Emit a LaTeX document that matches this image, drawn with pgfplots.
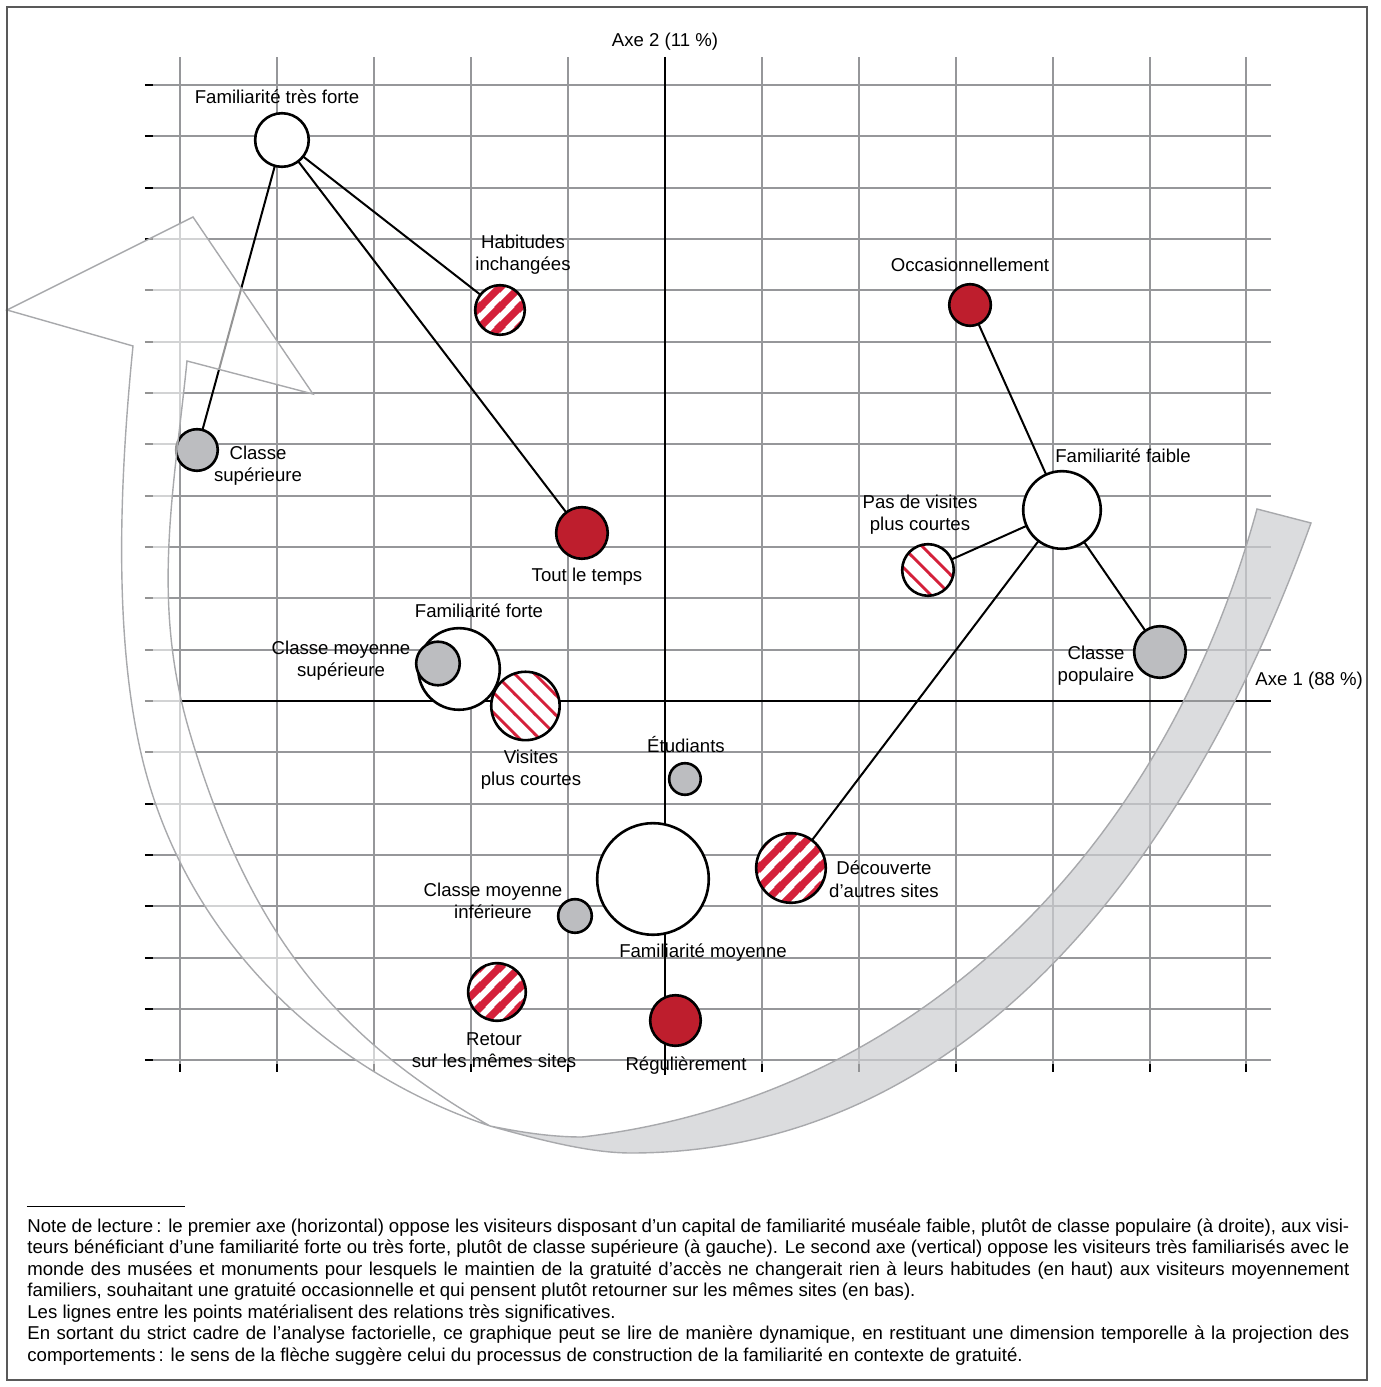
\documentclass[border=0pt]{standalone}
\usepackage{fontspec}
\setmainfont{Liberation Sans}
\usepackage{pgfplots}
\pgfplotsset{compat=1.18}
\usetikzlibrary{patterns}

\definecolor{gridgray}{RGB}{150,151,154}
\definecolor{circgray}{RGB}{188,189,192}
\definecolor{fillred}{RGB}{190,30,45}
\definecolor{hatchred}{RGB}{212,32,58}
\definecolor{bandgray}{RGB}{205,206,209}
\definecolor{bandedge}{RGB}{168,169,172}

\pgfdeclarepatternformonly{thickNE}{\pgfqpoint{0pt}{0pt}}{\pgfqpoint{10pt}{10pt}}{\pgfqpoint{10pt}{10pt}}{%
  \pgfsetlinewidth{3.7pt}%
  \pgfpathmoveto{\pgfqpoint{-2pt}{-2pt}}\pgfpathlineto{\pgfqpoint{12pt}{12pt}}%
  \pgfpathmoveto{\pgfqpoint{-2pt}{8pt}}\pgfpathlineto{\pgfqpoint{2pt}{12pt}}%
  \pgfpathmoveto{\pgfqpoint{8pt}{-2pt}}\pgfpathlineto{\pgfqpoint{12pt}{2pt}}%
  \pgfusepath{stroke}}
\pgfdeclarepatternformonly{thinNW}{\pgfqpoint{0pt}{0pt}}{\pgfqpoint{9.9pt}{9.9pt}}{\pgfqpoint{9.9pt}{9.9pt}}{%
  \pgfsetlinewidth{1.4pt}%
  \pgfpathmoveto{\pgfqpoint{-2pt}{11.9pt}}\pgfpathlineto{\pgfqpoint{11.9pt}{-2pt}}%
  \pgfpathmoveto{\pgfqpoint{-2pt}{2pt}}\pgfpathlineto{\pgfqpoint{2pt}{-2pt}}%
  \pgfpathmoveto{\pgfqpoint{7.9pt}{11.9pt}}\pgfpathlineto{\pgfqpoint{11.9pt}{7.9pt}}%
  \pgfusepath{stroke}}

\pgfdeclareplotmark{hatchA}{%
  \pgfscope
  \pgfpathcircle{\pgfpointorigin}{\pgfplotmarksize}%
  \pgfsetfillcolor{white}\pgfusepathqfill
  \pgfpathcircle{\pgfpointorigin}{\pgfplotmarksize}%
  \pgfsetfillpattern{thickNE}{hatchred}\pgfusepathqfill
  \endpgfscope
  \pgfpathcircle{\pgfpointorigin}{\pgfplotmarksize}%
  \pgfusepathqstroke}
\pgfdeclareplotmark{hatchB}{%
  \pgfscope
  \pgfpathcircle{\pgfpointorigin}{\pgfplotmarksize}%
  \pgfsetfillcolor{white}\pgfusepathqfill
  \pgfpathcircle{\pgfpointorigin}{\pgfplotmarksize}%
  \pgfsetfillpattern{thinNW}{hatchred}\pgfusepathqfill
  \endpgfscope
  \pgfpathcircle{\pgfpointorigin}{\pgfplotmarksize}%
  \pgfusepathqstroke}

\pgfplotsset{
  wc/.style={only marks, mark=*, mark size=#1, mark options={fill=white, draw=black, line width=1.3pt}},
  gc/.style={only marks, mark=*, mark size=#1, mark options={fill=circgray, draw=black, line width=1.3pt}},
  rc/.style={only marks, mark=*, mark size=#1, mark options={fill=fillred, draw=black, line width=1.3pt}},
  ha/.style={only marks, mark=hatchA, mark size=#1, mark options={draw=black, line width=1.3pt}},
  hb/.style={only marks, mark=hatchB, mark size=#1, mark options={draw=black, line width=1.3pt}},
  ln/.style={black, line width=1pt, no marks},
}

\newcommand{\labfont}{\fontsize{9.3pt}{11pt}\selectfont}
\newcommand{\lab}[3]{\node[anchor=base, inner sep=0pt, font=\labfont] at (#1,#2) {#3};}
\newcommand{\fl}[2]{\node[anchor=base west, inner sep=0pt, font=\labfont] at (27,#1) {#2};}

\begin{document}
\begin{tikzpicture}
\begin{axis}[
  x=48.45pt, y=25.66pt,
  xmin=-5.284, xmax=6.254, ymin=-7.073, ymax=12.549,
  axis line style={draw=none},
  xtick={-5,...,6}, ytick={-7,...,12},
  xticklabels={}, yticklabels={},
  xticklabel style={text opacity=0}, yticklabel style={text opacity=0},
  tick pos=left, tick align=outside,
  major tick length=4pt,
  tick style={black, line width=1pt},
  grid=major,
  major grid style={gridgray, line width=1pt},
  clip=false,
]
% axes
\addplot[black, line width=0.8pt, no marks] coordinates {(-5,0) (6.254,0)};
\addplot[black, line width=0.8pt, no marks] coordinates {(0,12.549) (0,-7.29)};
% significant relations
\addplot[ln] coordinates {(-3.953,10.931) (-4.830,4.891)};
\addplot[ln] coordinates {(-3.953,10.931) (-1.703,7.619)};
\addplot[ln] coordinates {(-3.953,10.931) (-0.857,3.274)};
\addplot[ln] coordinates {(3.148,7.716) (4.097,3.722)};
\addplot[ln] coordinates {(4.097,3.722) (2.714,2.553)};
\addplot[ln] coordinates {(4.097,3.722) (5.108,0.955)};
\addplot[ln] coordinates {(4.097,3.722) (1.300,-3.254)};
% familiarity (white)
\addplot[wc=13.4pt] coordinates {(-3.953,10.931)};
\addplot[wc=20.4pt] coordinates {(-2.126,0.624)};
\addplot[wc=27.9pt] coordinates {(-0.124,-3.468)};
\addplot[wc=19.4pt] coordinates {(4.097,3.722)};
% social class (gray)
\addplot[gc=10.4pt] coordinates {(-4.830,4.891)};
\addplot[gc=10.9pt] coordinates {(-2.343,0.731)};
\addplot[gc=7.9pt] coordinates {(0.206,-1.520)};
\addplot[gc=8.4pt] coordinates {(-0.929,-4.189)};
\addplot[gc=12.9pt] coordinates {(5.108,0.955)};
% frequency (red)
\addplot[rc=12.9pt] coordinates {(-0.857,3.274)};
\addplot[rc=12.65pt] coordinates {(0.108,-6.226)};
\addplot[rc=10.4pt] coordinates {(3.148,7.716)};
% habits (thick hatch)
\addplot[ha=12.4pt] coordinates {(-1.703,7.619)};
\addplot[ha=14.4pt] coordinates {(-1.734,-5.670)};
\addplot[ha=17.4pt] coordinates {(1.300,-3.254)};
% shorter visits (thin hatch)
\addplot[hb=17.1pt] coordinates {(-1.440,-0.097)};
\addplot[hb=12.9pt] coordinates {(2.714,2.553)};
\coordinate (O) at (axis cs:-6.8627,13.6594);
\end{axis}

\begin{scope}[shift={(O)}, x=0.5pt, y=-0.5pt]
\path (0,0) rectangle (1381,1387);
% arrow: grey front part
\filldraw[fill=bandgray, fill opacity=0.72, draw=bandedge, line width=0.7pt]
  (490,1126) .. controls (540,1140) and (590,1153) .. (631,1153)
  .. controls (961,1153) and (1185,873) .. (1311,523)
  -- (1257,509)
  .. controls (1158,870) and (900,1100) .. (582,1137)
  .. controls (550,1137) and (520,1132) .. (490,1126) -- cycle;
% arrow: white back part with head
\filldraw[fill=white, fill opacity=0.58, draw=bandedge, line width=0.7pt]
  (490,1126) .. controls (330,1072) and (201,950) .. (151,790)
  .. controls (110,660) and (120,476) .. (133,346)
  -- (7,310) -- (193,217) -- (313,394) -- (187,361)
  .. controls (174,491) and (151,600) .. (189,730)
  .. controls (251,941) and (342,1041) .. (490,1126) -- cycle;
% labels
\lab{277}{104}{Familiarité très forte}
\lab{523}{249}{Habitudes}
\lab{523}{271}{inchangées}
\lab{970}{272}{Occasionnellement}
\lab{258}{460}{Classe}
\lab{258}{482}{supérieure}
\lab{587}{582}{Tout le temps}
\lab{1123}{463}{Familiarité faible}
\lab{920}{509}{Pas de visites}
\lab{920}{531}{plus courtes}
\lab{479}{618}{Familiarité forte}
\lab{341}{655}{Classe moyenne}
\lab{341}{677}{supérieure}
\lab{1096}{660}{Classe}
\lab{1096}{682}{populaire}
\node[anchor=base west, inner sep=0pt, font=\labfont] at (1255,686) {Axe 1 (88 \%)};
\lab{665}{47}{Axe 2 (11 \%)}
\lab{531}{764}{Visites}
\lab{531}{786}{plus courtes}
\lab{686}{753}{Étudiants}
\lab{884}{875}{Découverte}
\lab{884}{897}{d'autres sites}
\lab{493}{896}{Classe moyenne}
\lab{493}{918}{inférieure}
\lab{703}{958}{Familiarité moyenne}
\lab{494}{1045}{Retour}
\lab{494}{1067}{sur les mêmes sites}
\lab{686}{1070}{Régulièrement}
% footnote
\draw[black, line width=0.5pt] (27,1206) -- (185,1206);
\fl{1232}{\hbox to 661pt{Note de lecture\,: le premier axe (horizontal) oppose les visiteurs disposant d’un capital de familiarité muséale faible, plutôt de classe populaire (à droite), aux visi-}}
\fl{1253.5}{\hbox to 661pt{teurs bénéficiant d’une familiarité forte ou très forte, plutôt de classe supérieure (à gauche). Le second axe (vertical) oppose les visiteurs très familiarisés avec le}}
\fl{1275}{\hbox to 661pt{monde des musées et monuments pour lesquels le maintien de la gratuité d’accès ne changerait rien à leurs habitudes (en haut) aux visiteurs moyennement}}
\fl{1296.5}{familiers, souhaitant une gratuité occasionnelle et qui pensent plutôt retourner sur les mêmes sites (en bas).}
\fl{1318}{Les lignes entre les points matérialisent des relations très significatives.}
\fl{1339.5}{\hbox to 661pt{En sortant du strict cadre de l’analyse factorielle, ce graphique peut se lire de manière dynamique, en restituant une dimension temporelle à la projection des}}
\fl{1361}{comportements\,: le sens de la flèche suggère celui du processus de construction de la familiarité en contexte de gratuité.}
% frame
\draw[black!65, line width=0.6pt] (7,7) rectangle (1367,1380);
\end{scope}
\end{tikzpicture}
\end{document}
